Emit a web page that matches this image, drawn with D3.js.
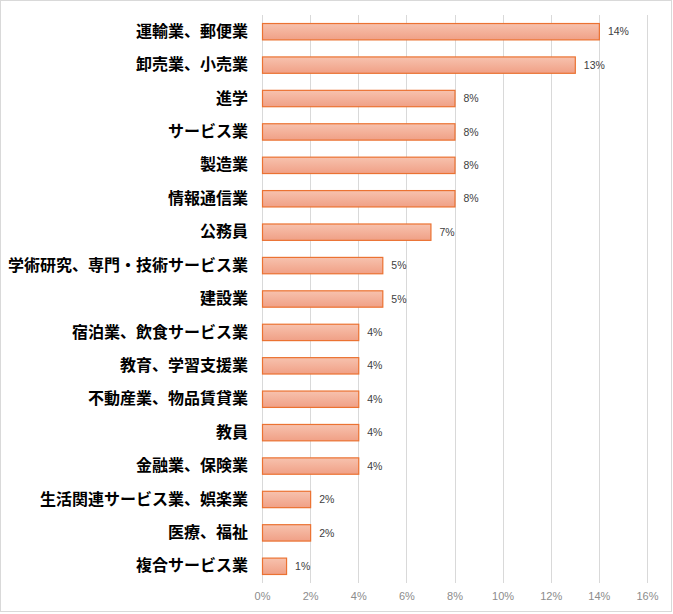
<!DOCTYPE html>
<html><head><meta charset="utf-8">
<script src="https://cdn.jsdelivr.net/npm/d3@7/dist/d3.min.js"></script>
<style>body{margin:0;background:#fff;}svg{display:block;}</style>
</head><body><div id="chart"></div>
<script>
const categories = ["運輸業、郵便業","卸売業、小売業","進学","サービス業","製造業","情報通信業","公務員","学術研究、専門・技術サービス業","建設業","宿泊業、飲食サービス業","教育、学習支援業","不動産業、物品賃貸業","教員","金融業、保険業","生活関連サービス業、娯楽業","医療、福祉","複合サービス業"];
const values = [14,13,8,8,8,8,7,5,5,4,4,4,4,4,2,2,1];
const tickValues = [0,2,4,6,8,10,12,14,16];

const W = 673, H = 614;
const m = {left:262, right:26, top:15, bottom:31};
const svg = d3.select("#chart").append("svg").attr("width",W).attr("height",H);

const defs = svg.append("defs");
const g1 = defs.append("linearGradient").attr("id","bg").attr("x1",0).attr("y1",0).attr("x2",0).attr("y2",1);
g1.append("stop").attr("offset","0%").attr("stop-color","#f7c2ae");
g1.append("stop").attr("offset","100%").attr("stop-color","#f0a086");

svg.append("rect").attr("x",0.5).attr("y",0.5).attr("width",W-2).attr("height",H-3)
  .attr("fill","#fff").attr("stroke","#d9d9d9");

const x = d3.scaleLinear().domain([0,16]).range([m.left, W-m.right]);
const y = d3.scaleBand().domain(categories).range([m.top, H-m.bottom]).paddingInner(0.51).paddingOuter(0.255);

// gridlines
svg.append("g").selectAll("line").data(tickValues).join("line")
  .attr("x1",d=>Math.round(x(d))+0.5).attr("x2",d=>Math.round(x(d))+0.5)
  .attr("y1",m.top).attr("y2",H-m.bottom)
  .attr("stroke","#d9d9d9").attr("stroke-width",1);

// x axis labels
const xAxis = d3.axisBottom(x).tickValues(tickValues).tickFormat(d=>d+"%").tickSize(0).tickPadding(9);
const ax = svg.append("g").attr("transform",`translate(0,${H-m.bottom})`).call(xAxis);
ax.select(".domain").remove();
ax.selectAll("text").attr("fill","#8c8c8c").style("font-family","'Liberation Sans', Arial, sans-serif").style("font-size","11px");

// bars
svg.append("g").selectAll("rect").data(values).join("rect")
  .attr("x",x(0)+0.5)
  .attr("y",(d,i)=>y(categories[i]))
  .attr("width",d=>x(d)-x(0))
  .attr("height",y.bandwidth())
  .attr("fill","url(#bg)").attr("stroke","#eb7232").attr("stroke-width",1.2);

// value labels
svg.append("g").selectAll("text").data(values).join("text")
  .attr("x",d=>x(d)+9)
  .attr("y",(d,i)=>y(categories[i])+y.bandwidth()/2)
  .attr("dy","0.35em")
  .attr("fill","#404040")
  .style("font-family","'Liberation Sans', Arial, sans-serif").style("font-size","10.5px")
  .text(d=>d+"%");

// category labels
const yAxis = d3.axisLeft(y).tickSize(0).tickPadding(14);
const ay = svg.append("g").attr("transform",`translate(${m.left},0)`).call(yAxis);
ay.select(".domain").remove();
ay.selectAll("text").attr("fill","#000").style("font-family","'Noto Sans CJK JP', sans-serif")
  .style("font-size","16px").style("font-weight","bold");
</script></body></html>
